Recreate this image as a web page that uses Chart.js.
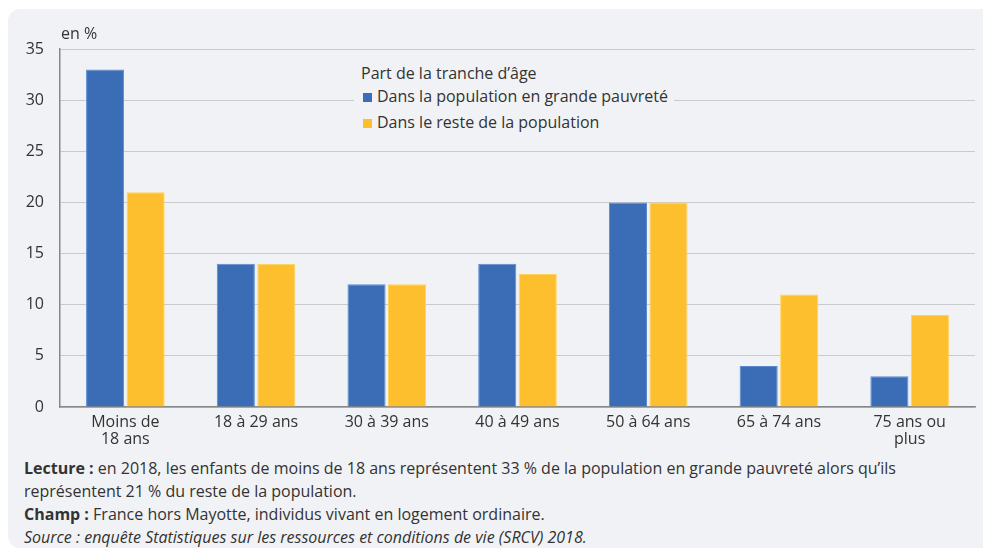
<!DOCTYPE html>
<html>
<head>
<meta charset="utf-8">
<script src="https://cdn.jsdelivr.net/npm/chart.js@4"></script>
<style>
  html, body { margin: 0; padding: 0; background: #ffffff; }
  body { width: 983px; height: 552px; position: relative; overflow: hidden; font-family: "Open Sans", sans-serif; color: #333; }
  #panel { position: absolute; left: 8px; top: 9px; width: 990px; height: 539px; background: #f1f2f5; border-radius: 12px; }
  #chartBox { position: absolute; left: 0; top: 0; width: 983px; height: 455px; }
  #unit { position: absolute; left: 61px; top: 22px; font-size: 16px; }
  #legend { position: absolute; left: 354px; top: 60px; width: 320px; height: 78px; background: #f1f2f5; font-size: 16px; }
  #legend .title { position: absolute; left: 7px; top: 2px; }
  #legend .item { position: absolute; left: 9px; white-space: nowrap; }
  #legend .sw { display: inline-block; width: 9px; height: 9px; margin-right: 5px; vertical-align: 0px; }
  #notes { position: absolute; left: 24px; top: 457px; font-size: 16px; line-height: 23px; }
</style>
</head>
<body>
<div id="panel"></div>
<div id="chartBox"><canvas id="chart"></canvas></div>
<div id="unit">en %</div>
<div id="legend">
  <div class="title">Part de la tranche d’âge</div>
  <div class="item" style="top:25px"><span class="sw" style="background:#3a6db5"></span>Dans la population en grande pauvreté</div>
  <div class="item" style="top:51px"><span class="sw" style="background:#fdbf2d"></span>Dans le reste de la population</div>
</div>
<div id="notes">
  <b>Lecture :</b> en 2018, les enfants de moins de 18 ans représentent 33 % de la population en grande pauvreté alors qu’ils<br>
  représentent 21 % du reste de la population.<br>
  <b>Champ :</b> France hors Mayotte, individus vivant en logement ordinaire.<br>
  <i>Source : enquête Statistiques sur les ressources et conditions de vie (SRCV) 2018.</i>
</div>

<script>
// age groups
const categories = [
  ["Moins de", "18 ans"],
  "18 à 29 ans",
  "30 à 39 ans",
  "40 à 49 ans",
  "50 à 64 ans",
  "65 à 74 ans",
  ["75 ans ou", "plus"]
];

// share of the age group, in %
const grandePauvrete = [33, 14, 12, 14, 20, 4, 3];
const restePopulation = [21, 14, 12, 13, 20, 11, 9];

const seriesLabels = ["Dans la population en grande pauvreté", "Dans le reste de la population"];
const yTicks = [0, 5, 10, 15, 20, 25, 30, 35];

Chart.defaults.font.family = '"Open Sans", sans-serif';
Chart.defaults.font.size = 16;
Chart.defaults.color = "#333";

new Chart(document.getElementById("chart"), {
  type: "bar",
  data: {
    labels: categories,
    datasets: [
      {
        label: seriesLabels[0],
        data: grandePauvrete,
        backgroundColor: "#3a6db5",
        borderColor: "#5b8ad0",
        borderWidth: 1,
        categoryPercentage: 0.62,
        barPercentage: 0.94
      },
      {
        label: seriesLabels[1],
        data: restePopulation,
        backgroundColor: "#fdbf2d",
        borderColor: "#ffd35a",
        borderWidth: 1,
        categoryPercentage: 0.62,
        barPercentage: 0.94
      }
    ]
  },
  options: {
    responsive: true,
    maintainAspectRatio: false,
    animation: false,
    layout: { padding: { left: 0, right: 8, top: 49, bottom: 0 } },
    plugins: {
      legend: { display: false },
      tooltip: { enabled: false }
    },
    scales: {
      x: {
        grid: { display: false, drawTicks: false },
        border: { display: true, color: "#888", width: 1.5 },
        ticks: { padding: 7, maxRotation: 0, autoSkip: false, font: { size: 16, lineHeight: 1.05 } },
        afterFit: (axis) => { axis.height = 48; }
      },
      y: {
        min: 0,
        max: 35,
        afterBuildTicks: (axis) => { axis.ticks = yTicks.map(v => ({ value: v })); },
        grid: { color: "#c9cacd", lineWidth: 1, drawTicks: false },
        border: { display: true, color: "#888", width: 1.5 },
        ticks: { padding: 16, font: { size: 16 } },
        afterFit: (axis) => { axis.width = 60; }
      }
    }
  }
});
</script>
</body>
</html>
